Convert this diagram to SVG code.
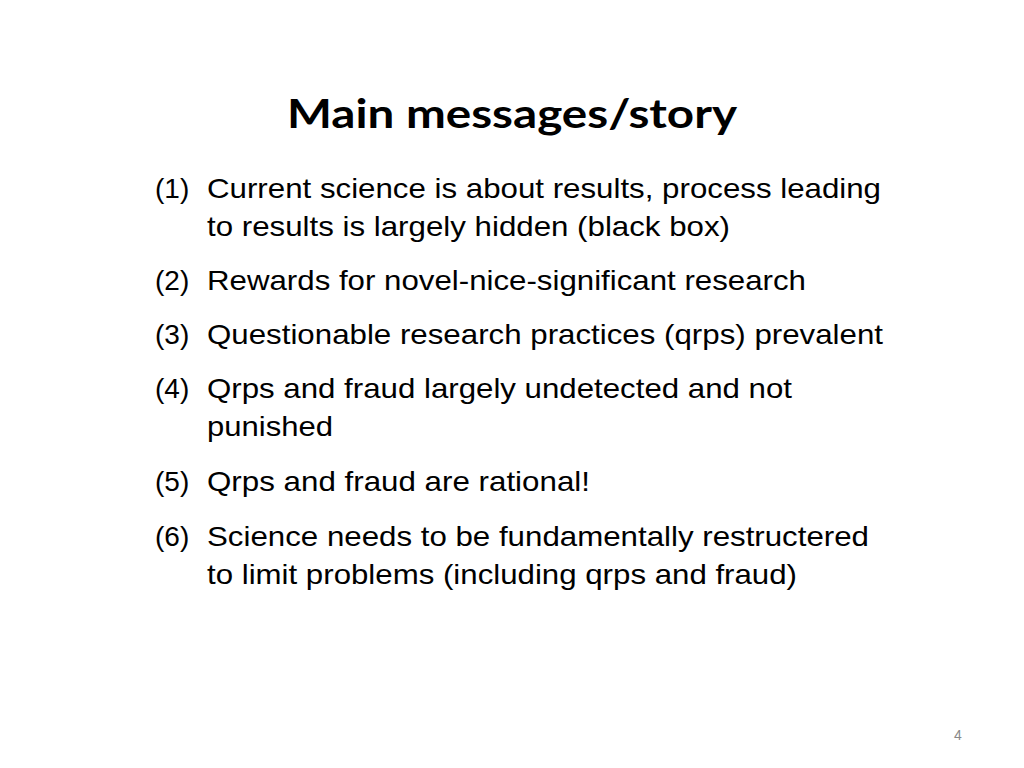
<svg xmlns="http://www.w3.org/2000/svg" width="1024" height="768" viewBox="0 0 1024 768">
<style>
.t{font-family:"Lato","Open Sans",sans-serif;font-weight:bold;font-size:40px;fill:#000}
.b{font-family:"Liberation Sans",Arial,sans-serif;font-size:28px;fill:#000}
.p{font-family:"Liberation Sans",Arial,sans-serif;font-size:14px;fill:#888}
</style>
<rect width="1024" height="768" fill="#fff"/>
<text class="t" x="512" y="128" text-anchor="middle" textLength="450" lengthAdjust="spacingAndGlyphs">Main messages/story</text>
<g class="b">
<text x="155" y="198">(1)</text><text x="207" y="198" textLength="674" lengthAdjust="spacingAndGlyphs">Current science is about results, process leading</text>
<text x="207" y="236" textLength="523" lengthAdjust="spacingAndGlyphs">to results is largely hidden (black box)</text>
<text x="155" y="290">(2)</text><text x="207" y="290" textLength="599" lengthAdjust="spacingAndGlyphs">Rewards for novel-nice-significant research</text>
<text x="155" y="344">(3)</text><text x="207" y="344" textLength="676" lengthAdjust="spacingAndGlyphs">Questionable research practices (qrps) prevalent</text>
<text x="155" y="398">(4)</text><text x="207" y="398" textLength="585" lengthAdjust="spacingAndGlyphs">Qrps and fraud largely undetected and not</text>
<text x="207" y="436" textLength="126" lengthAdjust="spacingAndGlyphs">punished</text>
<text x="155" y="491">(5)</text><text x="207" y="491" textLength="383" lengthAdjust="spacingAndGlyphs">Qrps and fraud are rational!</text>
<text x="155" y="546">(6)</text><text x="207" y="546" textLength="662" lengthAdjust="spacingAndGlyphs">Science needs to be fundamentally restructered</text>
<text x="207" y="584" textLength="590" lengthAdjust="spacingAndGlyphs">to limit problems (including qrps and fraud)</text>
</g>
<text class="p" x="958" y="740" text-anchor="middle">4</text>
</svg>
